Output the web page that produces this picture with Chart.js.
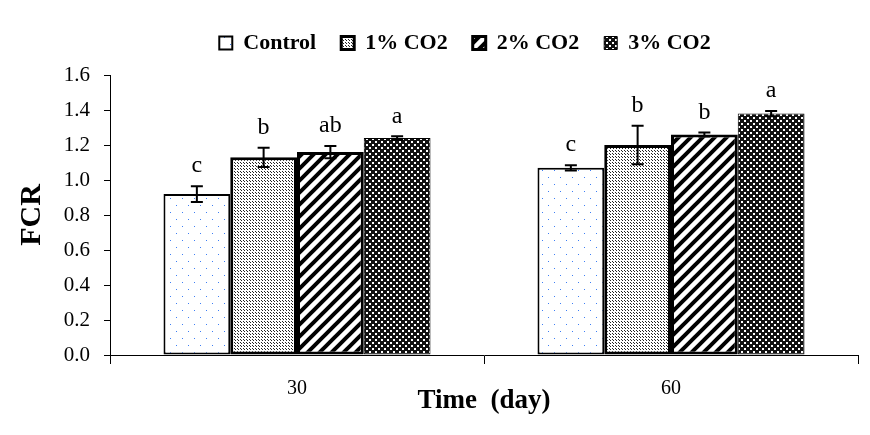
<!DOCTYPE html>
<html>
<head>
<meta charset="utf-8">
<script src="https://cdn.jsdelivr.net/npm/chart.js@4"></script>
<style>
  body { margin: 0; background: #fff; }
  #wrap { width: 870px; height: 435px; }
</style>
</head>
<body>
<div id="wrap"><canvas id="myChart" width="870" height="435"></canvas></div>
<script>
/* data */
var days = ['30', '60'];
var seriesNames = ['Control', '1% CO2', '2% CO2', '3% CO2'];
var control = [0.92, 1.07];
var co2_1 = [1.13, 1.20];
var co2_2 = [1.16, 1.26];
var co2_3 = [1.24, 1.38];
var errControl = [0.045, 0.015];
var errCo2_1 = [0.055, 0.11];
var errCo2_2 = [0.035, 0.012];
var errCo2_3 = [0.01, 0.015];
var lettersControl = ['c', 'c'];
var lettersCo2_1 = ['b', 'b'];
var lettersCo2_2 = ['ab', 'b'];
var lettersCo2_3 = ['a', 'a'];
var yTicks = [0, 0.2, 0.4, 0.6, 0.8, 1.0, 1.2, 1.4, 1.6];

/* fill patterns */
function makePattern(w, h, draw){
    var c = document.createElement('canvas');
    c.width = w; c.height = h;
    var g = c.getContext('2d');
    draw(g);
    return c.getContext('2d').createPattern(c, 'repeat');
}
var patControl = makePattern(12, 14, function(g){
    g.fillStyle = '#fff'; g.fillRect(0, 0, 12, 14);
    g.fillStyle = '#3d7ef5';
    g.fillRect(2, 2, 1, 1);
    g.fillRect(8, 9, 1, 1);
});
var patCo2_1 = makePattern(3, 3, function(g){
    g.fillStyle = '#fff'; g.fillRect(0, 0, 3, 3);
    g.fillStyle = '#222';
    g.fillRect(0, 0, 1, 1);
    g.fillRect(1, 1, 1, 1);
});
var patCo2_2 = makePattern(12, 12, function(g){
    g.fillStyle = '#fff'; g.fillRect(0, 0, 12, 12);
    g.strokeStyle = '#000'; g.lineWidth = 4;
    g.beginPath();
    g.moveTo(-2, 14); g.lineTo(14, -2);
    g.moveTo(-8, 8); g.lineTo(8, -8);
    g.moveTo(4, 20); g.lineTo(20, 4);
    g.stroke();
});
var patCo2_3 = makePattern(6, 6, function(g){
    g.fillStyle = '#111'; g.fillRect(0, 0, 6, 6);
    g.fillStyle = '#fff';
    g.fillRect(0, 0, 2, 2);
    g.fillRect(3, 3, 2, 2);
});

var errors = [errControl, errCo2_1, errCo2_2, errCo2_3];
var letters = [lettersControl, lettersCo2_1, lettersCo2_2, lettersCo2_3];

/* error bars + letters */
var errorPlugin = {
    id: 'errorBars',
    afterDatasetsDraw: function(chart){
        var ctx = chart.ctx;
        var y = chart.scales.y;
        ctx.save();
        chart.data.datasets.forEach(function(ds, i){
            var meta = chart.getDatasetMeta(i);
            meta.data.forEach(function(bar, j){
                var v = ds.data[j], e = errors[i][j];
                var top = y.getPixelForValue(v + e);
                var bot = y.getPixelForValue(v - e);
                ctx.strokeStyle = '#000';
                ctx.lineWidth = 2;
                ctx.beginPath();
                ctx.moveTo(bar.x, top); ctx.lineTo(bar.x, bot);
                ctx.moveTo(bar.x - 6, top); ctx.lineTo(bar.x + 6, top);
                ctx.moveTo(bar.x - 6, bot); ctx.lineTo(bar.x + 6, bot);
                ctx.stroke();
                ctx.fillStyle = '#000';
                ctx.font = '24px "Liberation Serif"';
                ctx.textAlign = 'center';
                ctx.textBaseline = 'bottom';
                ctx.fillText(letters[i][j], bar.x, top - 8);
            });
        });
        ctx.restore();
    }
};

/* extra space under the legend, legend nudged right */
var legendGap = {
    id: 'legendGap',
    beforeInit: function(chart){
        var orig = chart.legend.fit;
        chart.legend.fit = function(){
            orig.call(this);
            this.height += 11;
        };
    },
    afterLayout: function(chart){
        chart.legend.left += 36;
        chart.legend.right += 36;
    }
};

const ctx1 = document.getElementById('myChart');
new Chart(ctx1, {
    type: 'bar',
    data: {
        labels: days,
        datasets: [{
            label: seriesNames[0],
            data: control,
            backgroundColor: patControl,
            borderColor: '#000',
            borderWidth: 2,
            borderSkipped: false
        }, {
            label: seriesNames[1],
            data: co2_1,
            backgroundColor: patCo2_1,
            borderColor: '#000',
            borderWidth: 3,
            borderSkipped: false
        }, {
            label: seriesNames[2],
            data: co2_2,
            backgroundColor: patCo2_2,
            borderColor: '#000',
            borderWidth: 3,
            borderSkipped: false
        }, {
            label: seriesNames[3],
            data: co2_3,
            backgroundColor: patCo2_3,
            borderColor: '#000',
            borderWidth: 1,
            borderSkipped: false
        }]
    },
    options: {
        responsive: false,
        animation: false,
        devicePixelRatio: 1,
        categoryPercentage: 0.714,
        barPercentage: 1.0,
        layout: { padding: { top: 7, right: 12, left: 0, bottom: 0 } },
        plugins: {
            legend: {
                position: 'top',
                labels: {
                    boxWidth: 13,
                    boxHeight: 13,
                    padding: 25,
                    color: '#000',
                    font: { family: '"Liberation Serif"', size: 22, weight: 'bold' }
                }
            },
            tooltip: { enabled: false }
        },
        scales: {
            x: {
                offset: true,
                grid: { display: true, offset: true, drawOnChartArea: false, drawTicks: true, tickLength: 9, color: '#000' },
                border: { color: '#000', width: 1 },
                ticks: { color: '#000', padding: 13, font: { family: '"Liberation Serif"', size: 20 } },
                title: {
                    display: true,
                    text: 'Time  (day)',
                    color: '#000',
                    padding: { top: 0, bottom: 18 },
                    font: { family: '"Liberation Serif"', size: 27, weight: 'bold' }
                },
                afterFit: function(scale){ scale.height = 80; }
            },
            y: {
                min: 0,
                max: 1.6,
                afterBuildTicks: function(scale){
                    scale.ticks = yTicks.map(function(v){ return { value: v }; });
                },
                grid: { display: true, drawOnChartArea: false, drawTicks: true, tickLength: 6, color: '#000' },
                border: { color: '#000', width: 1 },
                ticks: {
                    color: '#000',
                    padding: 14,
                    font: { family: '"Liberation Serif"', size: 21 },
                    callback: function(v){ return Number(v).toFixed(1); }
                },
                title: {
                    display: true,
                    text: 'FCR',
                    color: '#000',
                    padding: { top: 14, bottom: 0 },
                    font: { family: '"Liberation Serif"', size: 30, weight: 'bold' }
                },
                afterFit: function(scale){ scale.width = 110; }
            }
        }
    },
    plugins: [errorPlugin, legendGap]
});
</script>
</body>
</html>
